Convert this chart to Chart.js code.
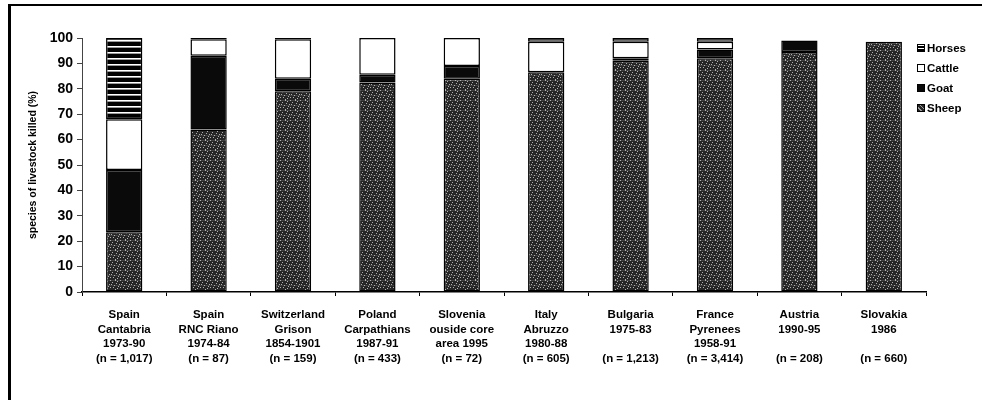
<!DOCTYPE html>
<html>
<head>
<meta charset="utf-8">
<script src="https://cdn.jsdelivr.net/npm/chart.js@4/dist/chart.umd.min.js"></script>
<style>
  html, body { margin: 0; padding: 0; background: #fff; }
  #wrap { position: relative; width: 982px; height: 400px; overflow: hidden; }
  #frame { position: absolute; left: 8px; top: 4px; right: -10px; bottom: -10px;
           border-left: 3px solid #000; border-top: 2px solid #000; pointer-events: none; }
  #legend { position: absolute; left: 917px; top: 38px; font-family: "Liberation Sans", Arial, sans-serif;
            font-size: 11.5px; font-weight: bold; color: #000; }
  #legend .item { height: 20px; display: flex; align-items: center; }
  #legend .sw { width: 8px; height: 8px; border: 1px solid #000; margin-right: 2px; box-sizing: border-box; }
</style>
</head>
<body>
<div id="wrap">
  <canvas id="c" width="982" height="400"></canvas>
  <div id="frame"></div>
  <div id="legend"></div>
</div>
<script>
// ---- data ----
const categories = [
  ["Spain", "Cantabria", "1973-90", "(n = 1,017)"],
  ["Spain", "RNC Riano", "1974-84", "(n = 87)"],
  ["Switzerland", "Grison", "1854-1901", "(n = 159)"],
  ["Poland", "Carpathians", "1987-91", "(n = 433)"],
  ["Slovenia", "ouside core", "area 1995", "(n = 72)"],
  ["Italy", "Abruzzo", "1980-88", "(n = 605)"],
  ["Bulgaria", "1975-83", "", "(n = 1,213)"],
  ["France", "Pyrenees", "1958-91", "(n = 3,414)"],
  ["Austria", "1990-95", "", "(n = 208)"],
  ["Slovakia", "1986", "", "(n = 660)"]
];
const sheep  = [23.5, 64, 79, 82.5, 84, 86.5, 91, 92, 94.5, 98.5];
const goat   = [24.5, 29, 5, 3, 5, 0, 1, 3.5, 4.5, 0];
const cattle = [20, 6.5, 15.5, 14.5, 11, 12, 6.5, 3, 0, 0];
const horses = [32, 0.5, 0.5, 0, 0, 1.5, 1.5, 1.5, 0, 0];
const yTicks = [0, 10, 20, 30, 40, 50, 60, 70, 80, 90, 100];
const yTitle = "species of livestock killed (%)";
const seriesNames = ["Sheep", "Goat", "Cattle", "Horses"];

// ---- fill styles ----
function makePattern(w, h, draw) {
  const cv = document.createElement('canvas');
  cv.width = w; cv.height = h;
  const g = cv.getContext('2d');
  draw(g);
  return document.createElement('canvas').getContext('2d').createPattern(cv, 'repeat');
}
const speck = [
  "1000010000",
  "0000000100",
  "0010000000",
  "0000001000",
  "0100000001",
  "0000100000",
  "0000000010",
  "1001000000",
  "0000000100",
  "0000010000"
];
const sheepPat = makePattern(10, 10, g => {
  g.fillStyle = '#262626'; g.fillRect(0, 0, 10, 10);
  g.fillStyle = '#404040'; g.fillRect(0, 0, 10, 1); g.fillRect(0, 5, 10, 1);
  g.fillStyle = '#b0b0b0';
  speck.forEach((row, y) => row.split('').forEach((c, x) => { if (c === '1') g.fillRect(x, y, 1, 1); }));
});
const horsePat = makePattern(4, 6, g => {
  g.fillStyle = '#000'; g.fillRect(0, 0, 4, 6);
  g.fillStyle = '#fff'; g.fillRect(0, 4, 4, 1);
  g.fillStyle = '#999'; g.fillRect(0, 5, 4, 1);
});
const fills = [sheepPat, '#0a0a0a', '#ffffff', horsePat];
const values = [sheep, goat, cattle, horses];

// ---- legend (HTML) ----
const legend = document.getElementById('legend');
const swatchCss = [
  'background: repeating-linear-gradient(45deg,#262626 0 2px,#999 2px 3px);',
  'background:#0a0a0a;',
  'background:#fff;',
  'background: repeating-linear-gradient(0deg,#000 0 2px,#fff 2px 3px);'
];
[3, 2, 1, 0].forEach(i => {
  const d = document.createElement('div');
  d.className = 'item';
  d.innerHTML = '<span class="sw" style="' + swatchCss[i] + '"></span>' + seriesNames[i];
  legend.appendChild(d);
});

// ---- chart ----
const font = "'Liberation Sans', Arial, sans-serif";
new Chart(document.getElementById('c'), {
  type: 'bar',
  data: {
    labels: categories,
    datasets: seriesNames.map((n, i) => ({
      label: n,
      data: values[i],
      backgroundColor: fills[i],
      borderColor: '#000',
      borderWidth: 1.5,
      borderSkipped: false,
      categoryPercentage: 1,
      barPercentage: 0.43
    }))
  },
  options: {
    responsive: false,
    animation: false,
    devicePixelRatio: 1,
    layout: { padding: { left: 22, right: 56, top: 38, bottom: 8 } },
    plugins: { legend: { display: false }, tooltip: { enabled: false } },
    scales: {
      x: {
        stacked: true,
        grid: { display: true, drawOnChartArea: false, drawTicks: true, tickLength: 4, color: '#000', offset: true },
        border: { color: '#000', width: 1.5 },
        ticks: { color: '#000', font: { family: font, size: 11.5, weight: 'bold', lineHeight: 1.26 },
                 padding: 12, maxRotation: 0, autoSkip: false },
        afterFit(s) { s.height = 100; }
      },
      y: {
        stacked: true,
        min: 0, max: 100,
        afterBuildTicks(s) { s.ticks = yTicks.map(v => ({ value: v })); },
        ticks: { color: '#000', font: { family: font, size: 14, weight: 'bold' }, padding: 4 },
        grid: { display: true, drawOnChartArea: false, tickLength: 5, color: '#444' },
        border: { color: '#444', width: 1 },
        title: { display: true, text: yTitle, color: '#000',
                 font: { family: font, size: 10.5, weight: 'bold' }, padding: { top: 5, bottom: 4 } },
        afterFit(s) { s.width = 60; }
      }
    }
  }
});
</script>
</body>
</html>
